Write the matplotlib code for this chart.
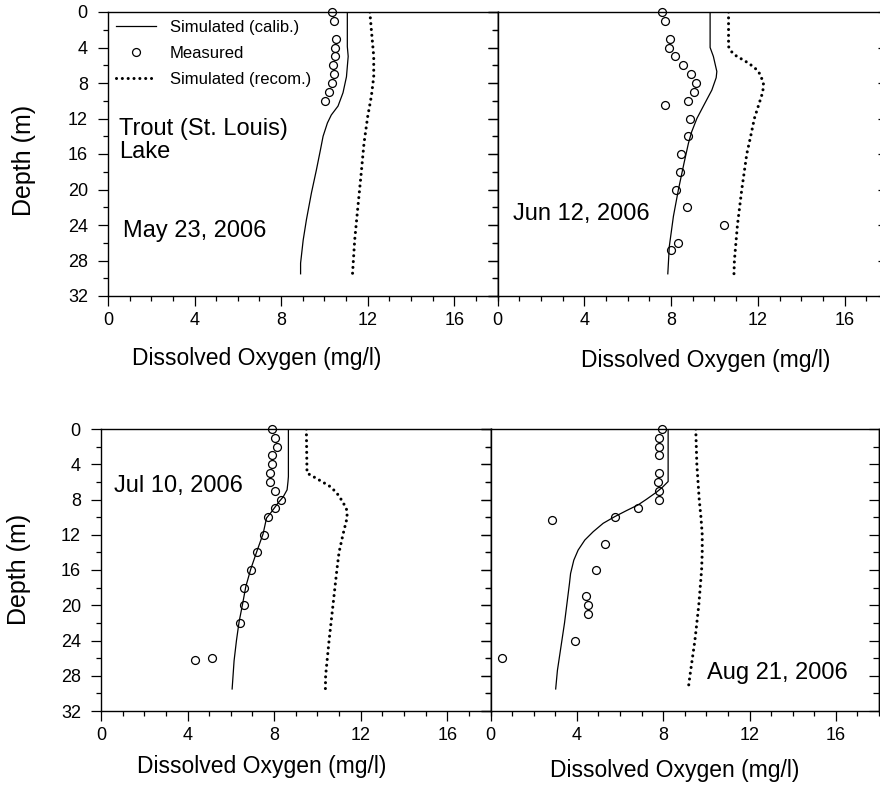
#Dissolved oxygen profiles, Trout (St. Louis) Lake, 2006: measured vs simulated
import matplotlib.pyplot as plt
from matplotlib.lines import Line2D
from matplotlib.ticker import MultipleLocator

plt.rcParams['font.family'] = ['Liberation Sans', 'DejaVu Sans']

# May 23, 2006
may_meas_depth = [0, 1, 3, 4, 5, 6, 7, 8, 9, 10]
may_meas_do = [10.37, 10.45, 10.55, 10.49, 10.5, 10.42, 10.43, 10.37, 10.2, 10.03]
may_cal_depth = [0, 3.9, 5, 7.3, 9.1, 10.6, 11.6, 12.5, 14, 15.5, 17.8, 20.4, 23.4, 25.7, 28.3, 29.5]
may_cal_do = [11.06, 11.06, 11.1, 11.02, 10.86, 10.63, 10.32, 10.14, 9.94, 9.82, 9.63, 9.4, 9.17, 9.02, 8.9, 8.9]
may_rec_depth = [0, 2, 5, 7.3, 9.5, 11.8, 14.8, 18.2, 21.9, 25.7, 29.5]
may_rec_do = [12.1, 12.17, 12.28, 12.28, 12.17, 12.0, 11.83, 11.7, 11.55, 11.4, 11.3]

# Jun 12, 2006
jun_meas_depth = [0, 1, 3, 4, 5, 6, 7, 8, 9, 10, 10.5, 12, 14, 16, 18, 20, 22, 24, 26, 26.8]
jun_meas_do = [7.59, 7.73, 7.97, 7.9, 8.19, 8.53, 8.91, 9.16, 9.05, 8.77, 7.73, 8.86, 8.76, 8.45, 8.39, 8.25, 8.73, 10.46, 8.33, 8.02]
jun_cal_depth = [0, 4, 5, 6.7, 7.4, 8.8, 10.6, 12, 13.5, 14.8, 17, 20, 23, 26.4, 29.5]
jun_cal_do = [9.8, 9.8, 9.95, 10.11, 10.08, 9.88, 9.49, 9.19, 8.95, 8.8, 8.6, 8.34, 8.11, 7.92, 7.85]
jun_rec_depth = [0, 3.9, 4.5, 5, 5.5, 6, 6.5, 7, 8, 9, 10, 12, 14, 16, 20, 24, 28, 29.5]
jun_rec_do = [10.65, 10.65, 10.8, 11.03, 11.4, 11.7, 11.95, 12.1, 12.26, 12.23, 12.1, 11.84, 11.67, 11.49, 11.26, 11.06, 10.92, 10.9]

# Jul 10, 2006
jul_meas_depth = [0, 1, 2, 3, 4, 5, 6, 7, 8, 9, 10, 12, 14, 16, 18, 20, 22, 26, 26.2]
jul_meas_do = [7.92, 8.05, 8.12, 7.92, 7.92, 7.82, 7.82, 8.02, 8.34, 8.03, 7.74, 7.52, 7.22, 6.92, 6.62, 6.62, 6.42, 5.14, 4.34]
jul_cal_depth = [0, 5.4, 6, 6.9, 7.7, 8.4, 9.4, 10.1, 11.9, 13.9, 15.9, 17.9, 19.9, 21.9, 24, 26.3, 29.5]
jul_cal_do = [8.66, 8.66, 8.64, 8.6, 8.42, 8.18, 7.88, 7.65, 7.49, 7.2, 6.92, 6.69, 6.54, 6.38, 6.26, 6.15, 6.06]
jul_rec_depth = [0, 5, 5.5, 6, 6.5, 7.2, 8, 9, 10, 12, 14, 16, 20, 24, 28, 29.5]
jul_rec_do = [9.49, 9.52, 9.88, 10.23, 10.57, 10.88, 11.1, 11.34, 11.38, 11.18, 11.0, 10.9, 10.72, 10.54, 10.38, 10.37]

# Aug 21, 2006
aug_meas_depth = [0, 1, 2, 3, 5, 6, 7, 8, 9, 10, 10.3, 13, 16, 19, 20, 21, 24, 26]
aug_meas_do = [7.94, 7.83, 7.83, 7.83, 7.83, 7.74, 7.83, 7.83, 6.84, 5.75, 2.83, 5.31, 4.91, 4.43, 4.54, 4.54, 3.92, 0.53]
aug_cal_depth = [0, 5.96, 6.6, 7.17, 7.97, 8.61, 9.26, 9.94, 10.7, 11.65, 12.6, 13.74, 14.88, 16.4, 17.5, 22, 27.4, 29.5]
aug_cal_do = [8.23, 8.23, 7.97, 7.69, 7.23, 6.84, 6.3, 5.76, 5.22, 4.76, 4.37, 4.06, 3.86, 3.71, 3.66, 3.43, 3.1, 3.02]
aug_rec_depth = [0, 4, 8, 10, 12, 14, 16, 20, 24, 28, 29.5]
aug_rec_do = [9.51, 9.56, 9.67, 9.75, 9.81, 9.81, 9.78, 9.65, 9.47, 9.24, 9.16]

W, H = 880, 788
fig = plt.figure(figsize=(W / 100, H / 100), dpi=100)

def add_ax(left, top, right, bottom):
    # pixel box -> figure fraction
    return fig.add_axes([left / W, 1 - bottom / H, (right - left) / W, (bottom - top) / H])

dot_style = dict(color='k', lw=2.2, linestyle=(0, (0.01, 1.9)), dash_capstyle='round')
circ_style = dict(marker='o', ls='none', mfc='none', mec='k', ms=5.7, mew=0.9)

def draw_panel(ax, meas, cal, rec, ylabels=True):
    ax.plot(cal[1], cal[0], color='k', lw=0.9)
    ax.plot(rec[1], rec[0], **dot_style)
    ax.plot(meas[1], meas[0], clip_on=False, **circ_style)
    ax.set_xlim(0, 18)
    ax.set_ylim(32, 0)
    ax.xaxis.set_major_locator(MultipleLocator(4))
    ax.xaxis.set_minor_locator(MultipleLocator(1))
    ax.yaxis.set_major_locator(MultipleLocator(4))
    ax.yaxis.set_minor_locator(MultipleLocator(2))
    ax.tick_params(which='both', direction='out', top=False, right=False,
                   labelsize=13, width=0.9, labelleft=ylabels)
    ax.tick_params(axis='x', which='major', length=7, pad=4.5)
    ax.tick_params(axis='y', which='major', length=7, pad=7.5)
    ax.tick_params(which='minor', length=3.5)
    for s in ax.spines.values():
        s.set_linewidth(1.0)
    # inward ticks on the right edge
    sec = ax.secondary_yaxis('right')
    sec.yaxis.set_major_locator(MultipleLocator(4))
    sec.yaxis.set_minor_locator(MultipleLocator(2))
    sec.tick_params(which='both', direction='in', labelright=False, width=0.9)
    sec.tick_params(which='major', length=7)
    sec.tick_params(which='minor', length=4)
    sec.spines['right'].set_linewidth(1.0)

ax1 = add_ax(108, 12, 497.5, 296)
ax2 = add_ax(497.5, 12, 888, 296)
ax3 = add_ax(101, 429, 490.5, 711)
ax4 = add_ax(490.5, 429, 879, 711)

draw_panel(ax1, (may_meas_depth, may_meas_do), (may_cal_depth, may_cal_do), (may_rec_depth, may_rec_do))
draw_panel(ax2, (jun_meas_depth, jun_meas_do), (jun_cal_depth, jun_cal_do), (jun_rec_depth, jun_rec_do), ylabels=False)
draw_panel(ax3, (jul_meas_depth, jul_meas_do), (jul_cal_depth, jul_cal_do), (jul_rec_depth, jul_rec_do))
draw_panel(ax4, (aug_meas_depth, aug_meas_do), (aug_cal_depth, aug_cal_do), (aug_rec_depth, aug_rec_do), ylabels=False)

ax1.text(0.5, 13.9, 'Trout (St. Louis)', fontsize=17)
ax1.text(0.5, 16.5, 'Lake', fontsize=17)
ax1.text(0.7, 25.4, 'May 23, 2006', fontsize=17)
ax2.text(0.7, 23.4, 'Jun 12, 2006', fontsize=17)
ax3.text(0.6, 7.15, 'Jul 10, 2006', fontsize=17)
ax4.text(10.05, 28.4, 'Aug 21, 2006', fontsize=17)

handles = [Line2D([0], [0], color='k', lw=0.9),
           Line2D([0], [0], **circ_style),
           Line2D([0], [0], **dot_style)]
ax1.legend(handles, ['Simulated (calib.)', 'Measured', 'Simulated (recom.)'],
           loc='upper left', bbox_to_anchor=(0.02, 0.973), frameon=False, fontsize=12,
           borderpad=0, borderaxespad=0, handlelength=2.4, handletextpad=0.84,
           labelspacing=0.67)

xlab = 'Dissolved Oxygen (mg/l)'
fig.text(257 / W, 1 - 359 / H, xlab, fontsize=16.5, ha='center', va='center')
fig.text(706 / W, 1 - 360 / H, xlab, fontsize=16.5, ha='center', va='center')
fig.text(262 / W, 1 - 767 / H, xlab, fontsize=16.5, ha='center', va='center')
fig.text(675 / W, 1 - 771 / H, xlab, fontsize=16.5, ha='center', va='center')
fig.text(24 / W, 1 - 160 / H, 'Depth (m)', fontsize=18, rotation=90, ha='center', va='center')
fig.text(19 / W, 1 - 569 / H, 'Depth (m)', fontsize=18, rotation=90, ha='center', va='center')

plt.savefig('out.png', dpi=100)
